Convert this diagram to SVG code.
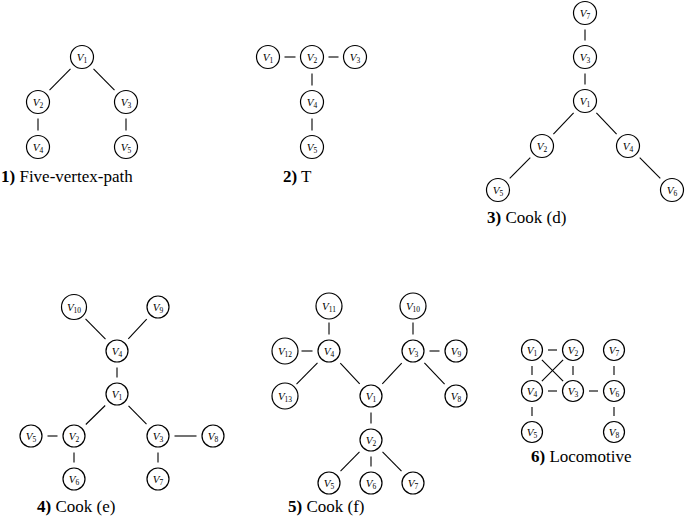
<svg xmlns="http://www.w3.org/2000/svg" width="685" height="517" viewBox="0 0 685 517">
<style>
.n circle{fill:#fff;stroke:#000;stroke-width:1.2}
.n text{font-family:'Liberation Serif',serif;font-style:italic;font-size:11px;text-anchor:middle;fill:#000}
.n tspan{font-style:normal;font-size:7.5px}
.e line{stroke:#000;stroke-width:1.1}
.cap{font-family:'Liberation Serif',serif;font-size:17px;fill:#000}
.cap tspan.b{font-weight:bold}
</style>
<rect width="685" height="517" fill="#fff"/>

<!-- Panel 1 -->
<g id="p1-edges" class="e">
<line x1="70.5" y1="68.8" x2="49.5" y2="90.2"/>
<line x1="93.5" y1="68.8" x2="114.5" y2="90.2"/>
<line x1="38" y1="118.5" x2="38" y2="130.5"/>
<line x1="126" y1="118.5" x2="126" y2="130.5"/>
</g>
<g id="p1-V1" class="n"><circle cx="82" cy="57" r="11.5"/><text x="82" y="60.5">V<tspan dy="2">1</tspan></text></g>
<g id="p1-V2" class="n"><circle cx="38" cy="102" r="11.5"/><text x="38" y="105.5">V<tspan dy="2">2</tspan></text></g>
<g id="p1-V3" class="n"><circle cx="126" cy="102" r="11.5"/><text x="126" y="105.5">V<tspan dy="2">3</tspan></text></g>
<g id="p1-V4" class="n"><circle cx="38" cy="147" r="11.5"/><text x="38" y="150.5">V<tspan dy="2">4</tspan></text></g>
<g id="p1-V5" class="n"><circle cx="126" cy="147" r="11.5"/><text x="126" y="150.5">V<tspan dy="2">5</tspan></text></g>
<text class="cap" x="1" y="182"><tspan class="b">1)</tspan> Five-vertex-path</text>

<!-- Panel 2 -->
<g id="p2-edges" class="e">
<line x1="284.5" y1="57" x2="295.5" y2="57"/>
<line x1="328.5" y1="57" x2="338.5" y2="57"/>
<line x1="312" y1="73.5" x2="312" y2="85.5"/>
<line x1="312" y1="118.5" x2="312" y2="130.5"/>
</g>
<g id="p2-V1" class="n"><circle cx="268" cy="57" r="11.5"/><text x="268" y="60.5">V<tspan dy="2">1</tspan></text></g>
<g id="p2-V2" class="n"><circle cx="312" cy="57" r="11.5"/><text x="312" y="60.5">V<tspan dy="2">2</tspan></text></g>
<g id="p2-V3" class="n"><circle cx="355" cy="57" r="11.5"/><text x="355" y="60.5">V<tspan dy="2">3</tspan></text></g>
<g id="p2-V4" class="n"><circle cx="312" cy="102" r="11.5"/><text x="312" y="105.5">V<tspan dy="2">4</tspan></text></g>
<g id="p2-V5" class="n"><circle cx="312" cy="147" r="11.5"/><text x="312" y="150.5">V<tspan dy="2">5</tspan></text></g>
<text class="cap" x="283" y="182"><tspan class="b">2)</tspan> T</text>

<!-- Panel 3 -->
<g id="p3-edges" class="e">
<line x1="585" y1="29.5" x2="585" y2="40.5"/>
<line x1="585" y1="73.5" x2="585" y2="84.5"/>
<line x1="573.6" y1="112.9" x2="553.4" y2="134.1"/>
<line x1="596.4" y1="112.9" x2="616.6" y2="134.1"/>
<line x1="530.3" y1="157.7" x2="509.7" y2="178.3"/>
<line x1="639.7" y1="157.7" x2="660.3" y2="178.3"/>
</g>
<g id="p3-V7" class="n"><circle cx="585" cy="13" r="11.5"/><text x="585" y="16.5">V<tspan dy="2">7</tspan></text></g>
<g id="p3-V3" class="n"><circle cx="585" cy="57" r="11.5"/><text x="585" y="60.5">V<tspan dy="2">3</tspan></text></g>
<g id="p3-V1" class="n"><circle cx="585" cy="101" r="11.5"/><text x="585" y="104.5">V<tspan dy="2">1</tspan></text></g>
<g id="p3-V2" class="n"><circle cx="542" cy="146" r="11.5"/><text x="542" y="149.5">V<tspan dy="2">2</tspan></text></g>
<g id="p3-V4" class="n"><circle cx="628" cy="146" r="11.5"/><text x="628" y="149.5">V<tspan dy="2">4</tspan></text></g>
<g id="p3-V5" class="n"><circle cx="498" cy="190" r="11.5"/><text x="498" y="193.5">V<tspan dy="2">5</tspan></text></g>
<g id="p3-V6" class="n"><circle cx="672" cy="190" r="11.5"/><text x="672" y="193.5">V<tspan dy="2">6</tspan></text></g>
<text class="cap" x="487" y="223"><tspan class="b">3)</tspan> Cook (d)</text>

<!-- Panel 4 -->
<g id="p4-edges" class="e">
<line x1="85.5" y1="318.8" x2="105.5" y2="339.2"/>
<line x1="146.7" y1="319.1" x2="128.3" y2="338.9"/>
<line x1="117" y1="367.5" x2="117" y2="377.5"/>
<line x1="105.2" y1="405.5" x2="85.8" y2="424.5"/>
<line x1="128.5" y1="405.8" x2="146.5" y2="424.2"/>
<line x1="47.5" y1="436" x2="57.5" y2="436"/>
<line x1="174.5" y1="436" x2="196.5" y2="436"/>
<line x1="74" y1="452.5" x2="74" y2="462.5"/>
<line x1="158" y1="452.5" x2="158" y2="462.5"/>
</g>
<g id="p4-V10" class="n"><circle cx="74" cy="307" r="12.5"/><text x="74" y="310.5">V<tspan dy="2">10</tspan></text></g>
<g id="p4-V9" class="n"><circle cx="158" cy="307" r="11"/><text x="158" y="310.5">V<tspan dy="2">9</tspan></text></g>
<g id="p4-V4" class="n"><circle cx="117" cy="351" r="11"/><text x="117" y="354.5">V<tspan dy="2">4</tspan></text></g>
<g id="p4-V1" class="n"><circle cx="117" cy="394" r="11"/><text x="117" y="397.5">V<tspan dy="2">1</tspan></text></g>
<g id="p4-V5" class="n"><circle cx="31" cy="436" r="11"/><text x="31" y="439.5">V<tspan dy="2">5</tspan></text></g>
<g id="p4-V2" class="n"><circle cx="74" cy="436" r="11"/><text x="74" y="439.5">V<tspan dy="2">2</tspan></text></g>
<g id="p4-V3" class="n"><circle cx="158" cy="436" r="11"/><text x="158" y="439.5">V<tspan dy="2">3</tspan></text></g>
<g id="p4-V8" class="n"><circle cx="213" cy="436" r="11"/><text x="213" y="439.5">V<tspan dy="2">8</tspan></text></g>
<g id="p4-V6" class="n"><circle cx="74" cy="479" r="11"/><text x="74" y="482.5">V<tspan dy="2">6</tspan></text></g>
<g id="p4-V7" class="n"><circle cx="158" cy="479" r="11"/><text x="158" y="482.5">V<tspan dy="2">7</tspan></text></g>
<text class="cap" x="37" y="512"><tspan class="b">4)</tspan> Cook (e)</text>

<!-- Panel 5 -->
<g id="p5-edges" class="e">
<line x1="329" y1="322.5" x2="329" y2="334.5"/>
<line x1="413" y1="322.5" x2="413" y2="334.5"/>
<line x1="301.5" y1="351" x2="312.5" y2="351"/>
<line x1="429.5" y1="351" x2="439.5" y2="351"/>
<line x1="317.5" y1="362.8" x2="296.5" y2="384.2"/>
<line x1="340.3" y1="363.1" x2="359.7" y2="383.9"/>
<line x1="401.7" y1="363.1" x2="382.3" y2="383.9"/>
<line x1="424.4" y1="362.9" x2="444.6" y2="384.1"/>
<line x1="371" y1="412.5" x2="371" y2="423.5"/>
<line x1="359.5" y1="451.8" x2="340.5" y2="471.2"/>
<line x1="371" y1="456.5" x2="371" y2="466.5"/>
<line x1="382.5" y1="451.8" x2="401.5" y2="471.2"/>
</g>
<g id="p5-V11" class="n"><circle cx="329" cy="306" r="13"/><text x="329" y="309.5">V<tspan dy="2">11</tspan></text></g>
<g id="p5-V10" class="n"><circle cx="413" cy="306" r="13"/><text x="413" y="309.5">V<tspan dy="2">10</tspan></text></g>
<g id="p5-V12" class="n"><circle cx="285" cy="351" r="13"/><text x="285" y="354.5">V<tspan dy="2">12</tspan></text></g>
<g id="p5-V4" class="n"><circle cx="329" cy="351" r="11"/><text x="329" y="354.5">V<tspan dy="2">4</tspan></text></g>
<g id="p5-V3" class="n"><circle cx="413" cy="351" r="11"/><text x="413" y="354.5">V<tspan dy="2">3</tspan></text></g>
<g id="p5-V9" class="n"><circle cx="456" cy="351" r="11"/><text x="456" y="354.5">V<tspan dy="2">9</tspan></text></g>
<g id="p5-V13" class="n"><circle cx="285" cy="396" r="13"/><text x="285" y="399.5">V<tspan dy="2">13</tspan></text></g>
<g id="p5-V1" class="n"><circle cx="371" cy="396" r="11"/><text x="371" y="399.5">V<tspan dy="2">1</tspan></text></g>
<g id="p5-V8" class="n"><circle cx="456" cy="396" r="11"/><text x="456" y="399.5">V<tspan dy="2">8</tspan></text></g>
<g id="p5-V2" class="n"><circle cx="371" cy="440" r="11"/><text x="371" y="443.5">V<tspan dy="2">2</tspan></text></g>
<g id="p5-V5" class="n"><circle cx="329" cy="483" r="11"/><text x="329" y="486.5">V<tspan dy="2">5</tspan></text></g>
<g id="p5-V6" class="n"><circle cx="371" cy="483" r="11"/><text x="371" y="486.5">V<tspan dy="2">6</tspan></text></g>
<g id="p5-V7" class="n"><circle cx="413" cy="483" r="11"/><text x="413" y="486.5">V<tspan dy="2">7</tspan></text></g>
<text class="cap" x="288" y="512"><tspan class="b">5)</tspan> Cook (f)</text>

<!-- Panel 6 -->
<g id="p6-edges" class="e">
<line x1="548" y1="350" x2="557" y2="350"/>
<line x1="532" y1="366" x2="532" y2="375"/>
<line x1="573" y1="366" x2="573" y2="375"/>
<line x1="548" y1="391" x2="557" y2="391"/>
<line x1="589" y1="391" x2="598" y2="391"/>
<line x1="614" y1="366" x2="614" y2="375"/>
<line x1="532" y1="407" x2="532" y2="416"/>
<line x1="614" y1="407" x2="614" y2="416"/>
<line x1="541.9" y1="359.9" x2="563.1" y2="381.1"/>
<line x1="563.1" y1="359.9" x2="541.9" y2="381.1"/>
</g>
<g id="p6-V1" class="n"><circle cx="532" cy="350" r="10.5"/><text x="532" y="353.5">V<tspan dy="2">1</tspan></text></g>
<g id="p6-V2" class="n"><circle cx="573" cy="350" r="10.5"/><text x="573" y="353.5">V<tspan dy="2">2</tspan></text></g>
<g id="p6-V7" class="n"><circle cx="614" cy="350" r="10.5"/><text x="614" y="353.5">V<tspan dy="2">7</tspan></text></g>
<g id="p6-V4" class="n"><circle cx="532" cy="391" r="10.5"/><text x="532" y="394.5">V<tspan dy="2">4</tspan></text></g>
<g id="p6-V3" class="n"><circle cx="573" cy="391" r="10.5"/><text x="573" y="394.5">V<tspan dy="2">3</tspan></text></g>
<g id="p6-V6" class="n"><circle cx="614" cy="391" r="10.5"/><text x="614" y="394.5">V<tspan dy="2">6</tspan></text></g>
<g id="p6-V5" class="n"><circle cx="532" cy="432" r="10.5"/><text x="532" y="435.5">V<tspan dy="2">5</tspan></text></g>
<g id="p6-V8" class="n"><circle cx="614" cy="432" r="10.5"/><text x="614" y="435.5">V<tspan dy="2">8</tspan></text></g>
<text class="cap" x="531" y="462"><tspan class="b">6)</tspan> Locomotive</text>
</svg>
